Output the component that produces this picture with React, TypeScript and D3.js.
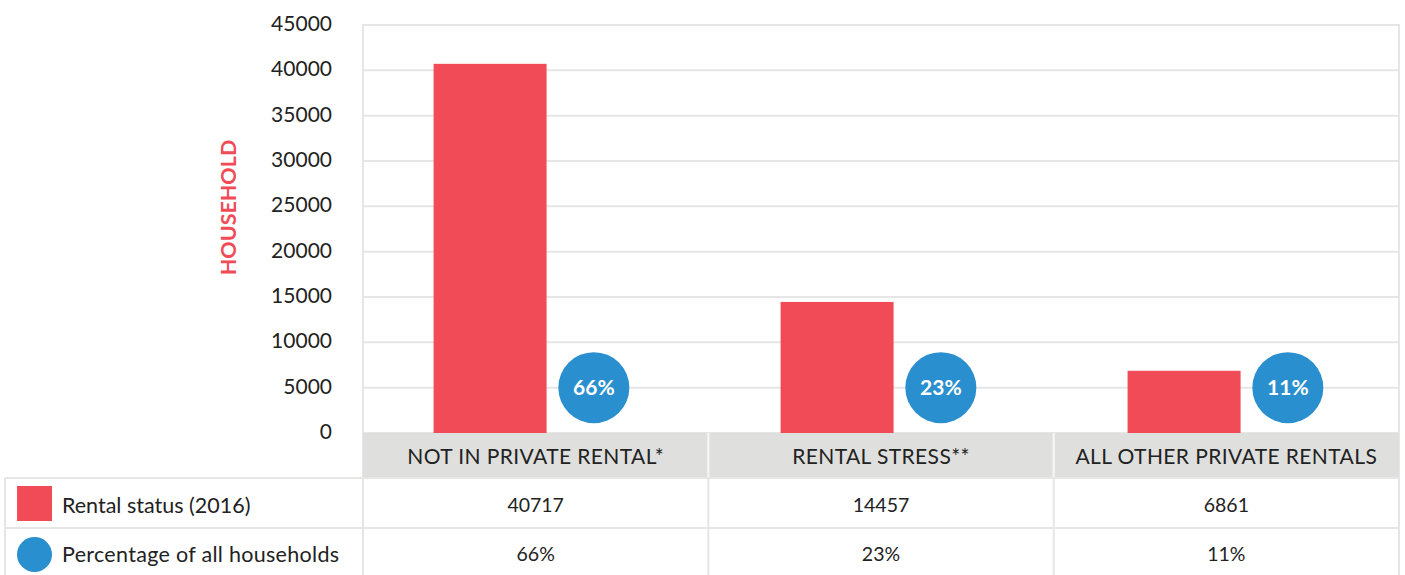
import React from "react";
import * as d3 from "d3";

const categories = ["NOT IN PRIVATE RENTAL*", "RENTAL STRESS**", "ALL OTHER PRIVATE RENTALS"];
const rentalStatus = [40717, 14457, 6861];
const percentages = [66, 23, 11];
const yTicks = [0, 5000, 10000, 15000, 20000, 25000, 30000, 35000, 40000, 45000];
const seriesNames = ["Rental status (2016)", "Percentage of all households"];

const W = 1405;
const H = 575;
const plotLeft = 363;
const plotRight = 1399;
const plotTop = 25;
const plotBottom = 433;
const headerBottom = 478;
const row1Bottom = 528;
const row2Bottom = 575;
const tableLeft = 5;

const RED = "#f04b57";
const BLUE = "#2a8fce";
const GRID = "#e6e6e6";
const HEADER = "#dfe0de";
const FONT = "Lato, 'Open Sans', sans-serif";

export default function App() {
  const x = d3.scaleBand<string>().domain(categories).range([plotLeft, plotRight]).padding(0);
  // marks are positioned on a slightly wider band step than the table columns
  const xm = d3.scaleBand<string>().domain(categories).range([plotLeft - 2, plotLeft - 2 + 3 * 347]).padding(0);
  const y = d3.scaleLinear().domain([0, 45000]).range([plotBottom, plotTop]);
  const bw = x.bandwidth();
  const mbw = xm.bandwidth();
  const barW = 113;
  const barCenter = mbw * 0.372;
  const circCenter = mbw * 0.671;
  const r = 35.5;

  return (
    <svg width={W} height={H} style={{ position: "absolute", left: 0, top: 0, display: "block" }}
      fontFamily={FONT}>
      <rect x={0} y={0} width={W} height={H} fill="#fff" />
      {/* gridlines */}
      {yTicks.map((t) => (
        <line key={t} x1={plotLeft} x2={plotRight} y1={y(t)} y2={y(t)} stroke={GRID} strokeWidth={2} />
      ))}
      <line x1={plotLeft} x2={plotLeft} y1={plotTop - 1} y2={row2Bottom} stroke={GRID} strokeWidth={2} />
      <line x1={plotRight} x2={plotRight} y1={plotTop - 1} y2={row2Bottom} stroke={GRID} strokeWidth={2} />
      {/* y ticks */}
      {yTicks.map((t) => (
        <text key={t} x={332} y={y(t) - 1} dy="0.34em" textAnchor="end" fontSize={21} fill="#222">
          {t}
        </text>
      ))}
      <text transform={`translate(228,207.5) rotate(-90)`} textAnchor="middle" dy="0.36em" fontSize={21.5}
        fontWeight="bold" fill={RED}>HOUSEHOLD</text>
      {/* bars */}
      {categories.map((c, i) => (
        <rect key={c} x={(xm(c) as number) + barCenter - barW / 2} width={barW} y={y(rentalStatus[i])}
          height={plotBottom - y(rentalStatus[i])} fill={RED} />
      ))}
      {/* circles */}
      {categories.map((c, i) => (
        <g key={c} transform={`translate(${(xm(c) as number) + circCenter},${y(5000)})`}>
          <circle r={r} fill={BLUE} />
          <text textAnchor="middle" dy="0.36em" fontSize={21} fontWeight="bold" fill="#fff">
            {percentages[i]}%
          </text>
        </g>
      ))}
      {/* header row */}
      <rect x={plotLeft} y={plotBottom} width={plotRight - plotLeft} height={headerBottom - plotBottom} fill={HEADER} />
      {categories.map((c, i) => (
        <g key={c}>
          {i > 0 && (
            <line x1={x(c) as number} x2={x(c) as number} y1={plotBottom} y2={row2Bottom} stroke={GRID} strokeWidth={2} />
          )}
          <text x={(x(c) as number) + bw / 2} y={457} dy="0.35em" textAnchor="middle" fontSize={21}
            letterSpacing={0.4} fill="#222">
            {c}
          </text>
          <text x={(x(c) as number) + bw / 2} y={505} dy="0.35em" textAnchor="middle" fontSize={19.5} fill="#222">
            {rentalStatus[i]}
          </text>
          <text x={(x(c) as number) + bw / 2} y={554} dy="0.35em" textAnchor="middle" fontSize={19.5} fill="#222">
            {percentages[i]}%
          </text>
        </g>
      ))}
      {/* separators inside header */}
      {categories.slice(1).map((c) => (
        <line key={c} x1={x(c) as number} x2={x(c) as number} y1={plotBottom} y2={headerBottom} stroke="#f6f6f6" strokeWidth={2} />
      ))}
      {/* table rows borders */}
      <line x1={tableLeft} x2={plotRight} y1={headerBottom} y2={headerBottom} stroke={GRID} strokeWidth={2} />
      <line x1={tableLeft} x2={plotRight} y1={row1Bottom} y2={row1Bottom} stroke={GRID} strokeWidth={2} />
      <line x1={tableLeft} x2={tableLeft} y1={headerBottom} y2={row2Bottom} stroke={GRID} strokeWidth={2} />
      {/* legend */}
      <rect x={17} y={486} width={35} height={35} fill={RED} />
      <circle cx={34.5} cy={554.5} r={17.5} fill={BLUE} />
      <text x={62} y={505} dy="0.35em" fontSize={21.5} fill="#222">{seriesNames[0]}</text>
      <text x={62} y={554} dy="0.35em" fontSize={21.5} letterSpacing={0.3} fill="#222">{seriesNames[1]}</text>
    </svg>
  );
}
